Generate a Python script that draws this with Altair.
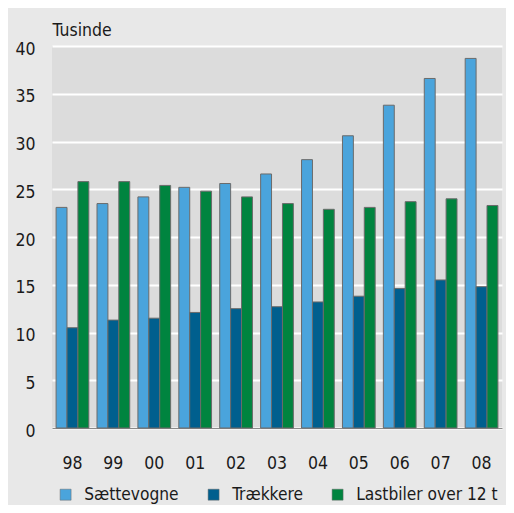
import altair as alt
import pandas as pd

years = ["98", "99", "00", "01", "02", "03", "04", "05", "06", "07", "08"]
saettevogne = [23.1, 23.5, 24.2, 25.2, 25.6, 26.6, 28.1, 30.6, 33.8, 36.6, 38.7]
traekkere = [10.5, 11.3, 11.5, 12.1, 12.5, 12.7, 13.2, 13.8, 14.6, 15.5, 14.8]
lastbiler = [25.8, 25.8, 25.4, 24.8, 24.2, 23.5, 22.9, 23.1, 23.7, 24.0, 23.3]
series = ["Sættevogne", "Trækkere", "Lastbiler over 12 t"]
colors = ["#4aa4dc", "#005f8e", "#00843f"]
y_ticks = [0, 5, 10, 15, 20, 25, 30, 35, 40]

rows = []
for name, vals in zip(series, [saettevogne, traekkere, lastbiler]):
    for yr, v in zip(years, vals):
        rows.append({"year": yr, "serie": name, "value": v})
df = pd.DataFrame(rows)

FONT = "DejaVu Sans Condensed"
FS = 17.5
LFS = 17.2
TXT = "#1a1a1a"

chart = alt.Chart(df).mark_bar(stroke="#6b6b6b", strokeWidth=1).encode(
    x=alt.X("year:N", sort=years,
            scale=alt.Scale(paddingInner=0.2, paddingOuter=0.1),
            axis=alt.Axis(title=None, labelAngle=0, labelFontSize=FS, labelFont=FONT,
                          labelColor=TXT, labelPadding=26, ticks=False,
                          domainColor="#8a8a8a", domainWidth=1, grid=False)),
    xOffset=alt.XOffset("serie:N", sort=series),
    y=alt.Y("value:Q", scale=alt.Scale(domain=[0, 40], nice=False),
            axis=alt.Axis(title="Tusinde", titleAngle=0, titleX=0, titleY=-11,
                          titleAlign="left", titleBaseline="alphabetic", titleFont=FONT,
                          titleFontSize=FS, titleFontWeight="normal", titleColor=TXT,
                          values=y_ticks, labelFontSize=FS, labelFont=FONT, labelColor=TXT,
                          ticks=False, domain=False, gridColor="white", gridWidth=2,
                          labelPadding=17, labelOffset=3)),
    color=alt.Color("serie:N", sort=series,
                    scale=alt.Scale(domain=series, range=colors),
                    legend=alt.Legend(title=None, orient="none", legendX=5, legendY=440,
                                      direction="horizontal", symbolType="square",
                                      symbolSize=121, symbolStrokeColor="#6b6b6b",
                                      symbolStrokeWidth=0.5, labelFontSize=LFS,
                                      labelFont=FONT, labelColor=TXT, columnPadding=26,
                                      labelOffset=10, padding=0)),
).properties(
    width=450, height=382, background="#e8e8e8",
    autosize=alt.AutoSizeParams(type="none"),
    padding={"left": 44, "top": 38, "right": 4, "bottom": 77},
).configure_view(fill="#dcdcdc", stroke=None)

chart.save("out.html", embed_options={"renderer": "svg", "actions": False})
